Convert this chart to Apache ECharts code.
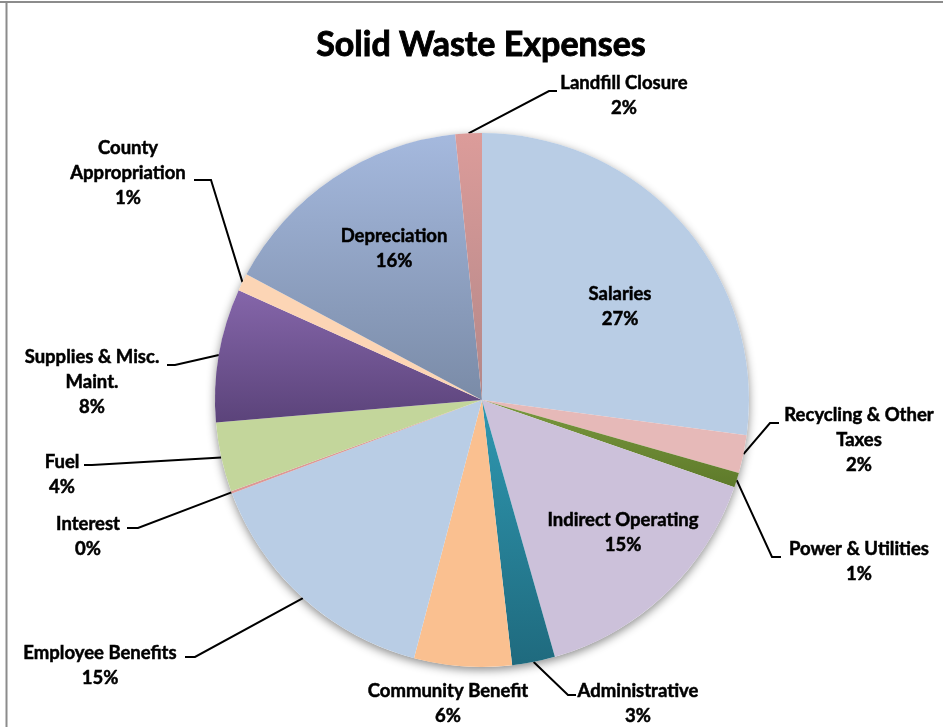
<!DOCTYPE html>
<html><head><meta charset="utf-8">
<script src="https://cdn.jsdelivr.net/npm/echarts@6/dist/echarts.min.js"></script>
<style>html,body{margin:0;padding:0;background:#fff}#c{width:943px;height:727px}</style>
</head><body><div id="c"></div>
<script>
// ---- data ----
const title = 'Solid Waste Expenses';
const categories = ['Salaries','Recycling & Other Taxes','Power & Utilities','Indirect Operating','Administrative','Community Benefit','Employee Benefits','Interest','Fuel','Supplies & Misc. Maint.','County Appropriation','Depreciation','Landfill Closure'];
const shares = [27.1, 2.3, 0.9, 15.3, 2.6, 5.9, 15.2, 0.15, 4.2, 8.1, 1.05, 15.6, 1.6];
const wrappedNames = {
  'Recycling & Other Taxes': 'Recycling & Other\nTaxes',
  'Supplies & Misc. Maint.': 'Supplies & Misc.\nMaint.',
  'County Appropriation': 'County\nAppropriation'
};

// ---- styles ----
function grad(a, b) {
  return new echarts.graphic.LinearGradient(0, 0, 0, 1, [{offset: 0, color: a}, {offset: 1, color: b}]);
}
const sliceColors = {
  'Salaries': '#b9cde5',
  'Recycling & Other Taxes': '#e6b9b8',
  'Power & Utilities': grad('#7a983e', '#5e7a2a'),
  'Indirect Operating': '#ccc1da',
  'Administrative': grad('#2f98b1', '#1f6a7e'),
  'Community Benefit': '#fac090',
  'Employee Benefits': '#b9cde5',
  'Interest': '#dc9896',
  'Fuel': '#c3d69b',
  'Supplies & Misc. Maint.': grad('#8566aa', '#5b437a'),
  'County Appropriation': '#fcd5b5',
  'Depreciation': grad('#a5b9de', '#7a8ba7'),
  'Landfill Closure': grad('#dc9c9a', '#b38788')
};
const insideLabels = ['Salaries', 'Indirect Operating', 'Depreciation'];
const noLine = ['Community Benefit'];

// label placement (annotation layout): centre of text block + leader elbow points
const placement = {
  'Salaries': {x: 620, y: 307},
  'Recycling & Other Taxes': {x: 859, y: 440, line: [[770, 423], [779, 423]]},
  'Power & Utilities': {x: 859, y: 562, line: [[772, 557], [781, 557]]},
  'Indirect Operating': {x: 623, y: 533},
  'Administrative': {x: 638, y: 704, line: [[568, 695], [576, 695]]},
  'Community Benefit': {x: 448, y: 704},
  'Employee Benefits': {x: 100, y: 666, line: [[195, 657], [185, 657]]},
  'Interest': {x: 88, y: 537, line: [[138, 528], [127, 528]]},
  'Fuel': {x: 62, y: 475, line: [[92, 465], [84, 465]]},
  'Supplies & Misc. Maint.': {x: 92, y: 382, line: [[175, 365], [167, 365]]},
  'County Appropriation': {x: 128, y: 173, line: [[211, 180], [194, 180]]},
  'Depreciation': {x: 394, y: 249},
  'Landfill Closure': {x: 624, y: 96, line: [[549, 91], [557, 91]]}
};

const FONT = 'Lato, "Open Sans", sans-serif';
const total = shares.reduce((a, b) => a + b, 0);

const pieData = categories.map((name, i) => ({
  name: name,
  value: shares[i],
  itemStyle: {color: sliceColors[name]},
  label: {position: insideLabels.includes(name) ? 'inside' : 'outside'},
  labelLine: {show: !insideLabels.includes(name) && !noLine.includes(name)}
}));

const chart = echarts.init(document.getElementById('c'), null, {renderer: 'canvas'});
chart.setOption({
  animation: false,
  backgroundColor: '#ffffff',
  graphic: [
    {type: 'line', shape: {x1: 0, y1: 2, x2: 943, y2: 2}, style: {stroke: '#8c8c8c', lineWidth: 2}, z: 10},
    {type: 'line', shape: {x1: 6.5, y1: 2, x2: 6.5, y2: 727}, style: {stroke: '#8c8c8c', lineWidth: 2}, z: 10},
    {type: 'text', x: 481, y: 45, style: {text: title, font: 'bold 34px ' + FONT, fill: '#000', stroke: '#000', lineWidth: 0.9, textAlign: 'center', textVerticalAlign: 'middle'}, z: 10}
  ],
  series: [
    {
      type: 'pie', silent: true, z: 1,
      center: [482, 400], radius: 267,
      label: {show: false}, labelLine: {show: false},
      itemStyle: {color: '#ffffff', shadowBlur: 10, shadowOffsetY: 3, shadowColor: 'rgba(0,0,0,0.45)'},
      emphasis: {disabled: true},
      data: [{name: 'all', value: total}]
    },
    {
      type: 'pie', z: 2,
      center: [482, 400], radius: 267,
      startAngle: 90, clockwise: true,
      avoidLabelOverlap: false,
      emphasis: {disabled: true},
      itemStyle: {borderWidth: 0},
      label: {
        show: true,
        overflow: 'none',
        fontFamily: FONT, fontWeight: 'bold', fontSize: 18.5, lineHeight: 25,
        color: '#000', textBorderColor: '#000', textBorderWidth: 0.5, align: 'center',
        formatter: p => (wrappedNames[p.name] || p.name) + '\n' + Math.round(p.percent) + '%'
      },
      labelLine: {length: 5, length2: 5, lineStyle: {color: '#000', width: 2}},
      labelLayout: function (p) {
        const pl = placement[categories[p.dataIndex]];
        if (!pl) return {};
        const out = {x: pl.x, y: pl.y, align: 'center', verticalAlign: 'middle'};
        if (pl.line && p.labelLinePoints && p.labelLinePoints.length) {
          out.labelLinePoints = [p.labelLinePoints[0], pl.line[0], pl.line[1]];
        }
        return out;
      },
      data: pieData
    }
  ]
});
</script>
</body></html>
